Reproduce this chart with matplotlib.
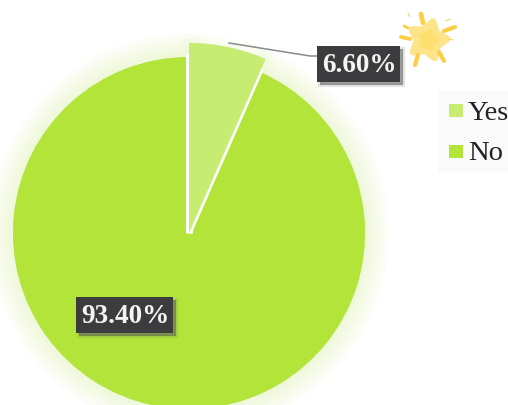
import matplotlib
matplotlib.use('Agg')
import matplotlib.pyplot as plt
import matplotlib.patheffects as pe
from matplotlib.patches import Rectangle, Polygon
import numpy as np

labels = ['Yes', 'No']
shares = [6.60, 93.40]
value_labels = ['6.60%', '93.40%']
colours = ['#c6ec72', '#b2e43a']

plt.rcParams['font.family'] = ['Liberation Serif', 'DejaVu Serif']

fig = plt.figure(figsize=(5.08, 4.06), dpi=100)
ax = fig.add_axes([0, 0, 1, 1])


def draw_pie(zorder):
    # y axis runs downwards here, so angles grow clockwise on screen
    wedges, _ = ax.pie(shares, colors=colours, startangle=-90, counterclock=True,
                       center=(189, 234), radius=176, explode=[0.02, 0], frame=True)
    # the Yes slice sticks out further than the rest
    wedges[0].set_radius(190)
    for w in wedges:
        w.set_linewidth(0)
        w.set_zorder(zorder)
    return wedges


# soft halo sits underneath, so it does not tint the slices
under = draw_pie(0.5)
under[1].set_path_effects([pe.Stroke(linewidth=w, foreground='#e4f5bb', alpha=0.13, joinstyle='round')
                           for w in (34, 26, 18, 11, 5)])
under[0].set_path_effects([pe.Stroke(linewidth=w, foreground='#eef9d2', alpha=0.15, joinstyle='round')
                           for w in (12, 6)])

wedges = draw_pie(2)
wedges[0].set_zorder(3)

# white gaps along the straight sides of the Yes slice
(ax0, ay0), yes = wedges[0].center, wedges[0]
for theta, lw in [(yes.theta1, 5.0), (yes.theta2, 3.8)]:
    t = np.deg2rad(theta)
    ax.plot([ax0, ax0 + 180 * np.cos(t)], [ay0, ay0 + 180 * np.sin(t)], color='white', lw=lw,
            solid_capstyle='butt', zorder=2.5)

ax.set_xlim(0, 508)
ax.set_ylim(406, 0)
ax.set_aspect('equal')
ax.axis('off')

# leader line to the small slice
ax.plot([229, 310, 318], [44, 57, 57], color='#8a8a8a', lw=1.1, zorder=4)


def value_box(x0, y0, x1, y1, text):
    ax.add_patch(Rectangle((x0 + 3, y0 + 3), x1 - x0, y1 - y0, fc='#555555', ec='none',
                           alpha=0.45, zorder=5,
                           path_effects=[pe.Stroke(linewidth=3, foreground='#777777', alpha=0.2), pe.Normal()]))
    ax.add_patch(Rectangle((x0, y0), x1 - x0, y1 - y0, fc='#3c3c3e', ec='none', zorder=6))
    ax.text((x0 + x1) / 2 + 1, (y0 + y1) / 2 + 1, text, color='#f4f4f4', fontsize=19.5, fontweight='bold',
            ha='center', va='center', zorder=7)


value_box(317, 47, 400, 83, value_labels[0])
value_box(76, 298, 173, 334, value_labels[1])

# legend panel
ax.add_patch(Rectangle((438, 92), 72, 81, fc='#fafafa', ec='none', zorder=1))
for lab, col, y in zip(labels, colours, [111.5, 152.5]):
    ax.add_patch(Rectangle((449, y - 6.5), 14, 13, fc=col, ec='none', zorder=2))
    ax.text(468, y + 8, lab, fontsize=20.5, color='#222222', ha='left', va='baseline', zorder=3)

# little sparkle star
cx, cy = 428, 41
ang = np.deg2rad(np.arange(0, 360, 36) - 75)
rad = np.where(np.arange(10) % 2 == 0, 19, 11)
ax.add_patch(Polygon(np.c_[cx + rad * np.cos(ang), cy + rad * np.sin(ang)], closed=True,
                     fc='#fde06c', ec='#fde48a', lw=5, joinstyle='round', zorder=3))
for x0, y0, x1, y1, lw in [(421, 15, 423, 24, 3.4), (401, 38, 410, 40, 2.8), (404, 27, 408, 29, 2),
                           (444, 32, 455, 28, 3), (418, 56, 415, 66, 3), (439, 53, 444, 62, 3),
                           (408, 14, 410, 18, 0.7), (446, 22, 450, 20, 0.7), (449, 40, 453, 41, 0.7)]:
    ax.plot([x0, x1], [y0, y1], color='#fbcf45', lw=lw, solid_capstyle='round', zorder=3)

fig.savefig('out.png', dpi=100)
